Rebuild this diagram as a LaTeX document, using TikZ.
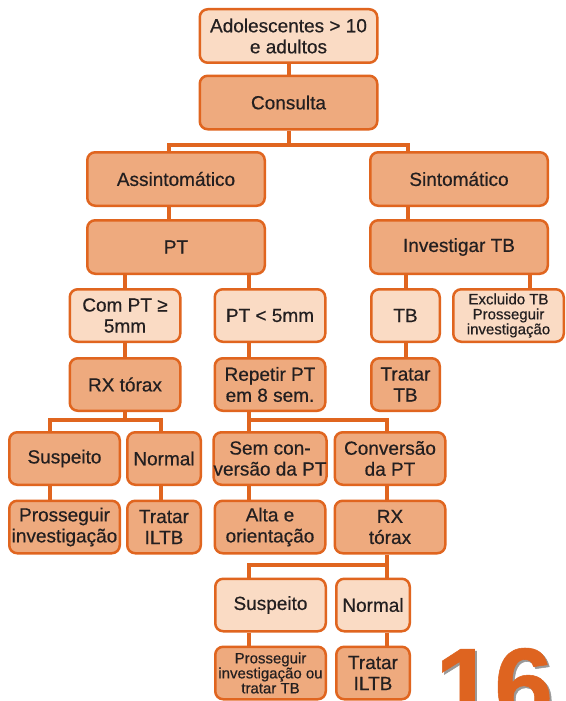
\documentclass[tikz,border=0pt]{standalone}
\usepackage{fontspec}
\setmainfont{Liberation Sans}[FakeBold=0.5]
\usetikzlibrary{backgrounds}
\definecolor{bord}{HTML}{E0651F}
\definecolor{boxdark}{HTML}{EEAA7E}
\definecolor{boxlight}{HTML}{FADBC4}
\definecolor{ink}{HTML}{231F20}
\definecolor{numorange}{HTML}{DE6420}

\begin{document}
\begin{tikzpicture}[x=1pt,y=-1pt,
    box/.style={draw=bord,line width=2.5pt,rounded corners=8pt,inner sep=0pt,align=center,text=ink,font=\fontsize{19}{21}\selectfont},
    darkbox/.style={box,fill=boxdark},
    lightbox/.style={box,fill=boxlight},
    link/.style={draw=bord,line width=4pt},
    wsize/.style={minimum width=177.5pt,minimum height=53.5pt},
    msize/.style={minimum width=110.5pt,minimum height=52.5pt},
    ssize/.style={minimum width=68.5pt,minimum height=52.5pt},
    nsize/.style={minimum width=73.5pt,minimum height=52.5pt},
    smalltext/.style={font=\fontsize{15}{15}\selectfont}]
      \useasboundingbox (0,0) rectangle (565,701);
      % top
      \node[lightbox,wsize] (adult) at (288.5,36) {Adolescentes > 10\\e adultos};
      \node[darkbox,wsize] (cons) at (288.5,102.5) {Consulta};
      \node[darkbox,wsize] (assint) at (176,179) {Assintomático};
      \node[darkbox,wsize] (sint) at (459,179) {Sintomático};
      \node[darkbox,wsize] (pt) at (176,247) {PT};
      \node[darkbox,wsize] (invtb) at (459,247) {Investigar TB};
      % row 4
      \node[lightbox,msize] (ptmaior) at (125,315.5) {Com PT ≥\\5mm};
      \node[lightbox,msize] (ptmenor) at (270,315.5) {PT < 5mm};
      \node[lightbox,ssize] (tb) at (405.5,315.5) {TB};
      \node[lightbox,msize,smalltext] (excl) at (508.5,315.5) {Excluido TB\\Prosseguir\\investigação};
      % row 5
      \node[darkbox,msize] (rx) at (125,384.5) {RX tórax};
      \node[darkbox,msize] (repetir) at (270,384.5) {Repetir PT\\em 8 sem.};
      \node[darkbox,ssize] (tratartb) at (405.5,384.5) {Tratar\\TB};
      % row 6
      \node[darkbox,msize] (susp) at (64.5,458.5) {Suspeito};
      \node[darkbox,nsize] (normal) at (164,458.5) {Normal};
      \node[darkbox,msize] (semconv) at (270,458.5) {Sem con-\\versão da PT};
      \node[darkbox,msize] (conv) at (390,458.5) {Conversão\\da PT};
      % row 7
      \node[darkbox,msize] (prosseg) at (64.5,527) {Prosseguir\\investigação};
      \node[darkbox,nsize] (tratar) at (164,527) {Tratar\\ILTB};
      \node[darkbox,msize] (alta) at (270,527) {Alta e\\orientação};
      \node[darkbox,msize] (rxb) at (390,527) {RX\\tórax};
      % lower branch
      \node[lightbox,msize] (suspb) at (270.5,605) {Suspeito};
      \node[lightbox,nsize] (normalb) at (373,605) {Normal};
      \node[darkbox,msize,smalltext] (prossegb) at (270.5,673) {Prosseguir\\investigação ou\\tratar TB};
      \node[darkbox,nsize] (tratarb) at (373,673) {Tratar\\ILTB};
      % page number
      \begin{scope}
        \clip (0,0) rectangle (565,701);
        \node[anchor=base west,inner sep=0pt,text=black!40,font=\fontsize{106}{106}\selectfont\bfseries] (numshadow) at (437,724) {16};
        \node[anchor=base west,inner sep=0pt,text=numorange,font=\fontsize{106}{106}\selectfont\bfseries] (pagenum) at (435,722) {16};
      \end{scope}
      % connectors
      \begin{scope}[on background layer]
        \fill[white] (0,0) rectangle (565,701);
        \draw[link] (adult) -- (cons);
        \draw[link] (cons.south) -- ++(0,14) -| ([xshift=-7pt]assint.north);
        \draw[link] (cons.south) ++(0,14) -| ([xshift=-51pt]sint.north);
        \draw[link] ([xshift=-7pt]assint.south) -- ([xshift=-7pt]pt.north);
        \draw[link] ([xshift=-51pt]sint.south) -- ([xshift=-51pt]invtb.north);
        \draw[link] (ptmaior.north |- pt.south) -- (ptmaior.north);
        \draw[link] ([xshift=-21pt]ptmenor.north |- pt.south) -- ([xshift=-21pt]ptmenor.north);
        \draw[link] (tb.north |- invtb.south) -- (tb.north);
        \draw[link] ([xshift=21.5pt]excl.north |- invtb.south) -- ([xshift=21.5pt]excl.north);
        \draw[link] (ptmaior) -- (rx);
        \draw[link] ([xshift=-21pt]ptmenor.south) -- ([xshift=-21pt]repetir.north);
        \draw[link] (tb) -- (tratartb);
        \draw[link] (rx.south) -- ++(0,8) -| ([xshift=-14.5pt]susp.north);
        \draw[link] (rx.south) ++(0,8) -| ([xshift=-3pt]normal.north);
        \draw[link] ([xshift=-21pt]repetir.south) -- ([xshift=-21pt]semconv.north);
        \draw[link] ([xshift=-21pt]repetir.south) ++(0,8) -| ([xshift=-3pt]conv.north);
        \draw[link] ([xshift=-14.5pt]susp.south) -- ([xshift=-14.5pt]prosseg.north);
        \draw[link] ([xshift=-3pt]normal.south) -- ([xshift=-3pt]tratar.north);
        \draw[link] ([xshift=-21pt]semconv.south) -- ([xshift=-21pt]alta.north);
        \draw[link] ([xshift=-3pt]conv.south) -- ([xshift=-3pt]rxb.north);
        \draw[link] ([xshift=-3pt]rxb.south) -- ([xshift=14pt]normalb.north);
        \draw[link] ([xshift=-3pt]rxb.south) ++(0,10) -| ([xshift=-21.5pt]suspb.north);
        \draw[link] ([xshift=-21.5pt]suspb.south) -- ([xshift=-21.5pt]prossegb.north);
        \draw[link] ([xshift=14pt]normalb.south) -- ([xshift=14pt]tratarb.north);
      \end{scope}
\end{tikzpicture}
\end{document}
